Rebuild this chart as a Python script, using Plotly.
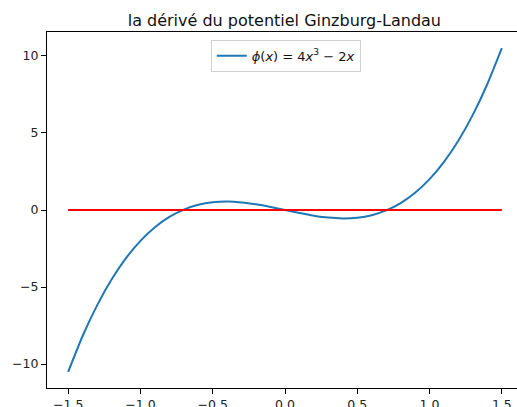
import plotly.graph_objects as go

# Sampled values of phi(x) = 4x^3 - 2x on [-1.5, 1.5]
x_vals = [-1.5, -1.4, -1.3, -1.2, -1.1, -1.0, -0.9, -0.8, -0.7, -0.6, -0.5,
          -0.4, -0.3, -0.2, -0.1, 0.0, 0.1, 0.2, 0.3, 0.4, 0.5,
          0.6, 0.7, 0.8, 0.9, 1.0, 1.1, 1.2, 1.3, 1.4, 1.5]
phi_vals = [-10.5, -8.176, -6.188, -4.512, -3.124, -2.0, -1.116, -0.448, 0.028, 0.336, 0.5,
            0.544, 0.492, 0.368, 0.196, 0.0, -0.196, -0.368, -0.492, -0.544, -0.5,
            -0.336, -0.028, 0.448, 1.116, 2.0, 3.124, 4.512, 6.188, 8.176, 10.5]

# Horizontal reference line at zero
zero_x = [-1.5, 1.5]
zero_y = [0, 0]

x_ticks = [-1.5, -1.0, -0.5, 0.0, 0.5, 1.0, 1.5]
x_labels = ["\u22121.5", "\u22121.0", "\u22120.5", "0.0", "0.5", "1.0", "1.5"]
y_ticks = [-10, -5, 0, 5, 10]
y_labels = ["\u221210", "\u22125", "0", "5", "10"]

title_text = "la dérivé du potentiel Ginzburg-Landau"
legend_text = "<i>ϕ</i>(<i>x</i>) = 4<i>x</i><sup>3</sup> \u2212 2<i>x</i>"

fig = go.Figure()
fig.add_trace(go.Scatter(
    x=x_vals, y=phi_vals, mode="lines", name=legend_text,
    line=dict(color="#1f77b4", width=2, shape="spline", smoothing=0.6),
))
fig.add_trace(go.Scatter(
    x=zero_x, y=zero_y, mode="lines", showlegend=False,
    line=dict(color="#ff0000", width=2),
))

font = "DejaVu Sans"
fig.update_layout(
    width=517, height=407,
    margin=dict(l=47, r=0, t=32, b=19),
    plot_bgcolor="white", paper_bgcolor="white",
    font=dict(family=font, size=12.5, color="#222222"),
    title=dict(text=title_text, x=0.55, xanchor="center", y=1 - 20 / 407, yanchor="middle",
               font=dict(family=font, size=16, color="#111111")),
    showlegend=True,
    legend=dict(x=0.508, xanchor="center", y=0.978, yanchor="top",
                bgcolor="rgba(255,255,255,0.8)", bordercolor="#d0d0d0", borderwidth=1,
                font=dict(family=font, size=13, color="#111111")),
    xaxis=dict(range=[-1.6465, 1.605], tickvals=x_ticks, ticktext=x_labels,
               showgrid=False, zeroline=False, showline=True, linecolor="black",
               linewidth=1, mirror=True, ticks="outside", ticklen=5,
               tickcolor="black", automargin=False),
    yaxis=dict(range=[-11.55, 11.55], tickvals=y_ticks, ticktext=y_labels,
               showgrid=False, zeroline=False, showline=True, linecolor="black",
               linewidth=1, mirror=False, ticks="outside", ticklen=5,
               tickcolor="black", automargin=False),
)

fig.write_html("out.html")
